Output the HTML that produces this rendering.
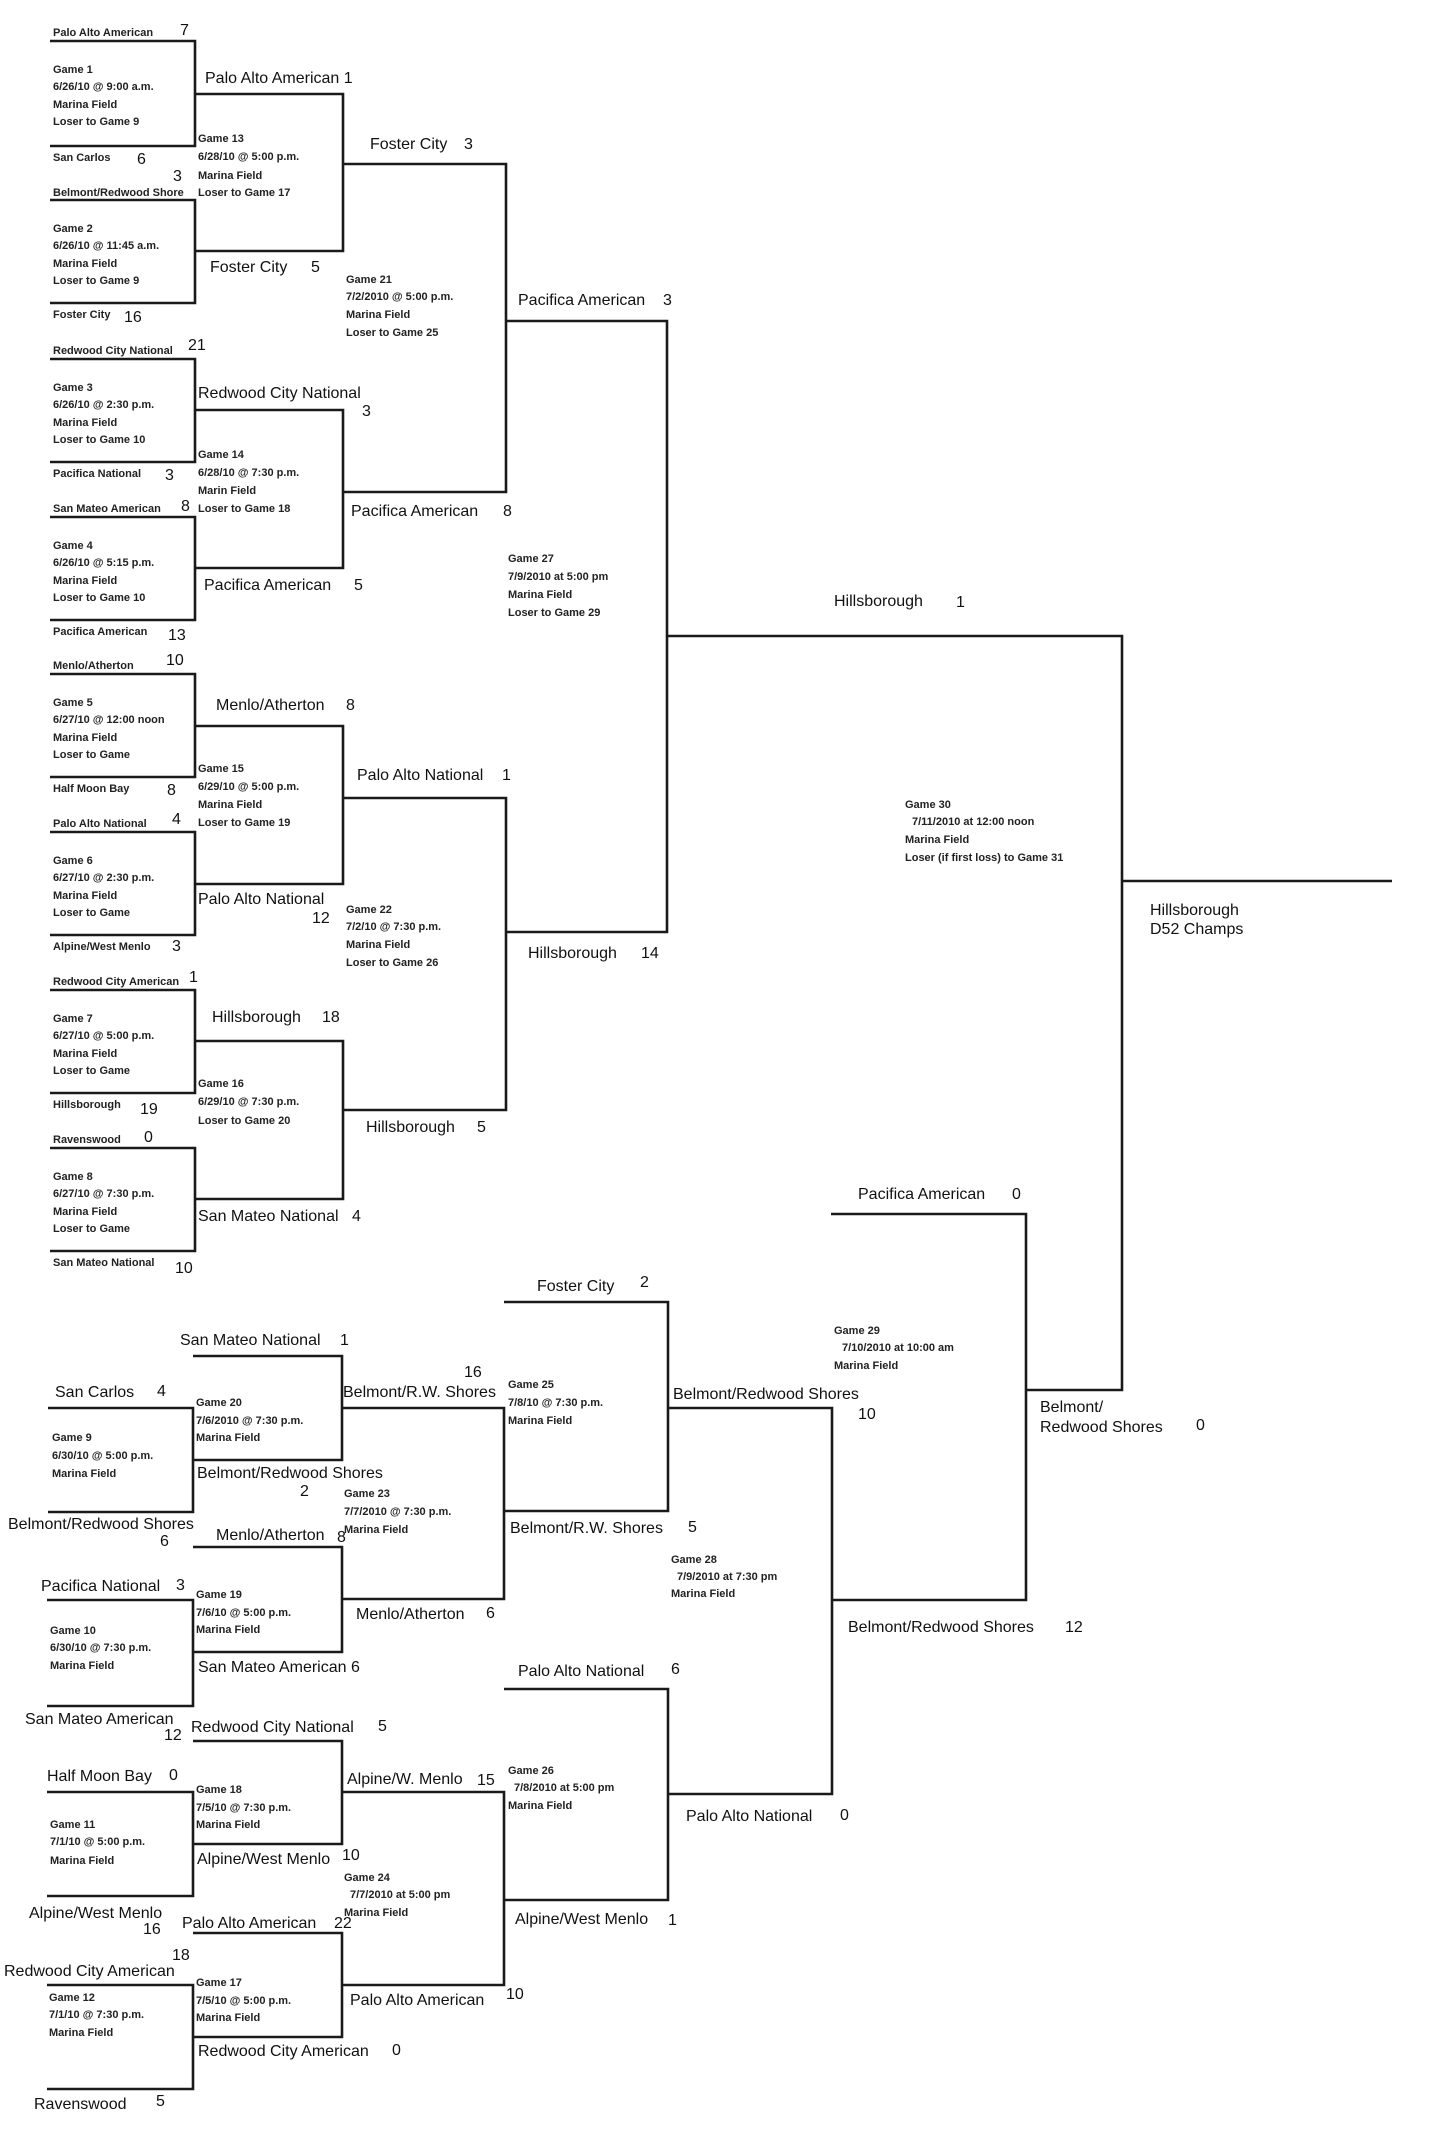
<!DOCTYPE html>
<html><head><meta charset="utf-8"><style>
html,body{margin:0;padding:0;background:#fff;}
svg{display:block;}
.s{font-family:"Liberation Sans",sans-serif;font-size:11px;font-weight:bold;fill:#222;}
.L{font-family:"Liberation Sans",sans-serif;font-size:16px;fill:#111;}
line,polyline{stroke:#1a1a1a;stroke-width:2.6;fill:none;}
</style></head><body>
<svg width="1446" height="2142" viewBox="0 0 1446 2142" xmlns="http://www.w3.org/2000/svg">
<!-- TOP HALF round 1 brackets -->
<polyline points="50,41 195,41 195,146 50,146"/>
<polyline points="50,200 195,200 195,303 50,303"/>
<polyline points="50,359 195,359 195,462 50,462"/>
<polyline points="50,517 195,517 195,620 50,620"/>
<polyline points="50,674 195,674 195,777 50,777"/>
<polyline points="50,832 195,832 195,935 50,935"/>
<polyline points="50,990 195,990 195,1093 50,1093"/>
<polyline points="50,1148 195,1148 195,1251 50,1251"/>
<!-- round 2 -->
<polyline points="195,94 343,94 343,251 195,251"/>
<polyline points="195,410 343,410 343,568 195,568"/>
<polyline points="195,726 343,726 343,884 195,884"/>
<polyline points="195,1041 343,1041 343,1199 195,1199"/>
<!-- round 3 -->
<polyline points="343,164 506,164 506,492 343,492"/>
<polyline points="343,798 506,798 506,1110 343,1110"/>
<!-- round 4 -->
<polyline points="506,321 667,321 667,932 506,932"/>
<!-- final -->
<polyline points="667,636 1122,636 1122,1390 1026,1390"/>
<line x1="1122" y1="881" x2="1392" y2="881"/>

<!-- BOTTOM HALF -->
<polyline points="48,1408 193,1408 193,1512 48,1512"/>
<polyline points="47,1600 193,1600 193,1706 47,1706"/>
<polyline points="47,1792 193,1792 193,1896 47,1896"/>
<polyline points="47,1985 193,1985 193,2089 47,2089"/>
<polyline points="193,1356 342,1356 342,1460 193,1460"/>
<polyline points="193,1547 342,1547 342,1652 193,1652"/>
<polyline points="193,1741 342,1741 342,1844 193,1844"/>
<polyline points="193,1933 342,1933 342,2037 193,2037"/>
<polyline points="342,1408 504,1408 504,1599 342,1599"/>
<polyline points="342,1792 504,1792 504,1985 342,1985"/>
<polyline points="504,1302 668,1302 668,1511 504,1511"/>
<polyline points="504,1689 668,1689 668,1900 504,1900"/>
<polyline points="668,1408 832,1408 832,1794 668,1794"/>
<polyline points="831,1214 1026,1214 1026,1600 832,1600"/>

<!-- TOP round 1 text -->
<text class="s" x="53" y="36">Palo Alto American</text><text class="L" x="180" y="35">7</text>
<text class="s" x="53" y="73">Game 1</text><text class="s" x="53" y="90">6/26/10 @ 9:00 a.m.</text><text class="s" x="53" y="108">Marina Field</text><text class="s" x="53" y="125">Loser to Game 9</text>
<text class="s" x="53" y="161">San Carlos</text><text class="L" x="137" y="164">6</text>
<text class="L" x="173" y="181">3</text>
<text class="s" x="53" y="196">Belmont/Redwood Shore</text>
<text class="s" x="53" y="232">Game 2</text><text class="s" x="53" y="249">6/26/10 @ 11:45 a.m.</text><text class="s" x="53" y="267">Marina Field</text><text class="s" x="53" y="284">Loser to Game 9</text>
<text class="s" x="53" y="318">Foster City</text><text class="L" x="124" y="322">16</text>
<text class="s" x="53" y="354">Redwood City National</text><text class="L" x="188" y="350">21</text>
<text class="s" x="53" y="391">Game 3</text><text class="s" x="53" y="408">6/26/10 @ 2:30 p.m.</text><text class="s" x="53" y="426">Marina Field</text><text class="s" x="53" y="443">Loser to Game 10</text>
<text class="s" x="53" y="477">Pacifica National</text><text class="L" x="165" y="480">3</text>
<text class="s" x="53" y="512">San Mateo American</text><text class="L" x="181" y="511">8</text>
<text class="s" x="53" y="549">Game 4</text><text class="s" x="53" y="566">6/26/10 @ 5:15 p.m.</text><text class="s" x="53" y="584">Marina Field</text><text class="s" x="53" y="601">Loser to Game 10</text>
<text class="s" x="53" y="635">Pacifica American</text><text class="L" x="168" y="640">13</text>
<text class="s" x="53" y="669">Menlo/Atherton</text><text class="L" x="166" y="665">10</text>
<text class="s" x="53" y="706">Game 5</text><text class="s" x="53" y="723">6/27/10 @ 12:00 noon</text><text class="s" x="53" y="741">Marina Field</text><text class="s" x="53" y="758">Loser to Game</text>
<text class="s" x="53" y="792">Half Moon Bay</text><text class="L" x="167" y="795">8</text>
<text class="s" x="53" y="827">Palo Alto National</text><text class="L" x="172" y="824">4</text>
<text class="s" x="53" y="864">Game 6</text><text class="s" x="53" y="881">6/27/10 @ 2:30 p.m.</text><text class="s" x="53" y="899">Marina Field</text><text class="s" x="53" y="916">Loser to Game</text>
<text class="s" x="53" y="950">Alpine/West Menlo</text><text class="L" x="172" y="951">3</text>
<text class="s" x="53" y="985">Redwood City American</text><text class="L" x="189" y="982">1</text>
<text class="s" x="53" y="1022">Game 7</text><text class="s" x="53" y="1039">6/27/10 @ 5:00 p.m.</text><text class="s" x="53" y="1057">Marina Field</text><text class="s" x="53" y="1074">Loser to Game</text>
<text class="s" x="53" y="1108">Hillsborough</text><text class="L" x="140" y="1114">19</text>
<text class="s" x="53" y="1143">Ravenswood</text><text class="L" x="144" y="1142">0</text>
<text class="s" x="53" y="1180">Game 8</text><text class="s" x="53" y="1197">6/27/10 @ 7:30 p.m.</text><text class="s" x="53" y="1215">Marina Field</text><text class="s" x="53" y="1232">Loser to Game</text>
<text class="s" x="53" y="1266">San Mateo National</text><text class="L" x="175" y="1273">10</text>

<!-- TOP round 2 text -->
<text class="L" x="205" y="83">Palo Alto American  1</text>
<text class="s" x="198" y="142">Game 13</text><text class="s" x="198" y="160">6/28/10 @ 5:00 p.m.</text><text class="s" x="198" y="179">Marina Field</text><text class="s" x="198" y="196">Loser to Game 17</text>
<text class="L" x="210" y="272">Foster City</text><text class="L" x="311" y="272">5</text>
<text class="L" x="198" y="398">Redwood City National</text><text class="L" x="362" y="416">3</text>
<text class="s" x="198" y="458">Game 14</text><text class="s" x="198" y="476">6/28/10 @ 7:30 p.m.</text><text class="s" x="198" y="494">Marin Field</text><text class="s" x="198" y="512">Loser to Game 18</text>
<text class="L" x="204" y="590">Pacifica American</text><text class="L" x="354" y="590">5</text>
<text class="L" x="216" y="710">Menlo/Atherton</text><text class="L" x="346" y="710">8</text>
<text class="s" x="198" y="772">Game 15</text><text class="s" x="198" y="790">6/29/10 @ 5:00 p.m.</text><text class="s" x="198" y="808">Marina Field</text><text class="s" x="198" y="826">Loser to Game 19</text>
<text class="L" x="198" y="904">Palo Alto National</text><text class="L" x="312" y="923">12</text>
<text class="L" x="212" y="1022">Hillsborough</text><text class="L" x="322" y="1022">18</text>
<text class="s" x="198" y="1087">Game 16</text><text class="s" x="198" y="1105">6/29/10 @ 7:30 p.m.</text><text class="s" x="198" y="1124">Loser to Game 20</text>
<text class="L" x="198" y="1221">San Mateo National</text><text class="L" x="352" y="1221">4</text>

<!-- TOP round 3/4 text -->
<text class="L" x="370" y="149">Foster City</text><text class="L" x="464" y="149">3</text>
<text class="s" x="346" y="283">Game 21</text><text class="s" x="346" y="300">7/2/2010 @ 5:00 p.m.</text><text class="s" x="346" y="318">Marina Field</text><text class="s" x="346" y="336">Loser to Game 25</text>
<text class="L" x="351" y="516">Pacifica American</text><text class="L" x="503" y="516">8</text>
<text class="L" x="357" y="780">Palo Alto National</text><text class="L" x="502" y="780">1</text>
<text class="s" x="346" y="913">Game 22</text><text class="s" x="346" y="930">7/2/10 @ 7:30 p.m.</text><text class="s" x="346" y="948">Marina Field</text><text class="s" x="346" y="966">Loser to Game 26</text>
<text class="L" x="366" y="1132">Hillsborough</text><text class="L" x="477" y="1132">5</text>
<text class="L" x="518" y="305">Pacifica American</text><text class="L" x="663" y="305">3</text>
<text class="s" x="508" y="562">Game 27</text><text class="s" x="508" y="580">  7/9/2010  at 5:00 pm</text><text class="s" x="508" y="598">Marina Field</text><text class="s" x="508" y="616">Loser to Game 29</text>
<text class="L" x="528" y="958">Hillsborough</text><text class="L" x="641" y="958">14</text>
<text class="L" x="834" y="606">Hillsborough</text><text class="L" x="956" y="607">1</text>
<text class="s" x="905" y="808">Game 30</text><text class="s" x="912" y="825">7/11/2010  at 12:00 noon</text><text class="s" x="905" y="843">Marina Field</text><text class="s" x="905" y="861">Loser (if first loss) to Game 31</text>
<text class="L" x="1150" y="915">Hillsborough</text><text class="L" x="1150" y="934">D52 Champs</text>

<!-- BOTTOM text -->
<text class="L" x="180" y="1345">San Mateo National</text><text class="L" x="340" y="1345">1</text>
<text class="L" x="55" y="1397">San Carlos</text><text class="L" x="157" y="1396">4</text>
<text class="s" x="196" y="1406">Game 20</text><text class="s" x="196" y="1424">7/6/2010 @ 7:30 p.m.</text><text class="s" x="196" y="1441">Marina Field</text>
<text class="L" x="464" y="1377">16</text>
<text class="L" x="343" y="1397">Belmont/R.W. Shores</text>
<text class="s" x="52" y="1441">Game 9</text><text class="s" x="52" y="1459">6/30/10 @ 5:00 p.m.</text><text class="s" x="52" y="1477">Marina Field</text>
<text class="L" x="197" y="1478">Belmont/Redwood Shores</text><text class="L" x="300" y="1496">2</text>
<text class="s" x="344" y="1497">Game 23</text><text class="s" x="344" y="1515">7/7/2010 @ 7:30 p.m.</text><text class="s" x="344" y="1533">Marina Field</text>
<text class="L" x="8" y="1529">Belmont/Redwood Shores</text><text class="L" x="160" y="1546">6</text>
<text class="L" x="216" y="1540">Menlo/Atherton</text><text class="L" x="337" y="1542">8</text>
<text class="L" x="41" y="1591">Pacifica National</text><text class="L" x="176" y="1590">3</text>
<text class="s" x="196" y="1598">Game 19</text><text class="s" x="196" y="1616">7/6/10 @ 5:00 p.m.</text><text class="s" x="196" y="1633">Marina Field</text>
<text class="L" x="356" y="1619">Menlo/Atherton</text><text class="L" x="486" y="1618">6</text>
<text class="s" x="50" y="1634">Game 10</text><text class="s" x="50" y="1651">6/30/10 @ 7:30 p.m.</text><text class="s" x="50" y="1669">Marina Field</text>
<text class="L" x="198" y="1672">San Mateo American 6</text>
<text class="L" x="25" y="1724">San Mateo American</text><text class="L" x="164" y="1740">12</text>
<text class="L" x="191" y="1732">Redwood City National</text><text class="L" x="378" y="1731">5</text>
<text class="L" x="47" y="1781">Half Moon Bay</text><text class="L" x="169" y="1780">0</text>
<text class="s" x="196" y="1793">Game 18</text><text class="s" x="196" y="1811">7/5/10 @ 7:30 p.m.</text><text class="s" x="196" y="1828">Marina Field</text>
<text class="L" x="347" y="1784">Alpine/W. Menlo</text><text class="L" x="477" y="1785">15</text>
<text class="s" x="50" y="1828">Game 11</text><text class="s" x="50" y="1845">7/1/10 @ 5:00 p.m.</text><text class="s" x="50" y="1864">Marina Field</text>
<text class="L" x="197" y="1864">Alpine/West Menlo</text><text class="L" x="342" y="1860">10</text>
<text class="s" x="344" y="1881">Game 24</text><text class="s" x="350" y="1898">7/7/2010  at 5:00 pm</text><text class="s" x="344" y="1916">Marina Field</text>
<text class="L" x="29" y="1918">Alpine/West Menlo</text><text class="L" x="143" y="1934">16</text>
<text class="L" x="182" y="1928">Palo Alto American</text><text class="L" x="334" y="1928">22</text>
<text class="L" x="172" y="1960">18</text>
<text class="L" x="4" y="1976">Redwood City American</text>
<text class="s" x="196" y="1986">Game 17</text><text class="s" x="196" y="2004">7/5/10 @ 5:00 p.m.</text><text class="s" x="196" y="2021">Marina Field</text>
<text class="L" x="350" y="2005">Palo Alto American</text><text class="L" x="506" y="1999">10</text>
<text class="s" x="49" y="2001">Game 12</text><text class="s" x="49" y="2018">7/1/10 @ 7:30 p.m.</text><text class="s" x="49" y="2036">Marina Field</text>
<text class="L" x="198" y="2056">Redwood City American</text><text class="L" x="392" y="2055">0</text>
<text class="L" x="34" y="2109">Ravenswood</text><text class="L" x="156" y="2106">5</text>

<text class="L" x="537" y="1291">Foster City</text><text class="L" x="640" y="1287">2</text>
<text class="s" x="508" y="1388">Game 25</text><text class="s" x="508" y="1406">7/8/10 @ 7:30 p.m.</text><text class="s" x="508" y="1424">Marina Field</text>
<text class="L" x="673" y="1399">Belmont/Redwood Shores</text><text class="L" x="858" y="1419">10</text>
<text class="L" x="510" y="1533">Belmont/R.W. Shores</text><text class="L" x="688" y="1532">5</text>
<text class="s" x="671" y="1563">Game 28</text><text class="s" x="677" y="1580">7/9/2010  at 7:30 pm</text><text class="s" x="671" y="1597">Marina Field</text>
<text class="L" x="518" y="1676">Palo Alto National</text><text class="L" x="671" y="1674">6</text>
<text class="s" x="508" y="1774">Game 26</text><text class="s" x="514" y="1791">7/8/2010  at 5:00 pm</text><text class="s" x="508" y="1809">Marina Field</text>
<text class="L" x="686" y="1821">Palo Alto National</text><text class="L" x="840" y="1820">0</text>
<text class="L" x="515" y="1924">Alpine/West Menlo</text><text class="L" x="668" y="1925">1</text>
<text class="L" x="858" y="1199">Pacifica American</text><text class="L" x="1012" y="1199">0</text>
<text class="s" x="834" y="1334">Game 29</text><text class="s" x="842" y="1351">7/10/2010  at 10:00 am</text><text class="s" x="834" y="1369">Marina Field</text>
<text class="L" x="1040" y="1412">Belmont/</text><text class="L" x="1040" y="1432">Redwood Shores</text><text class="L" x="1196" y="1430">0</text>
<text class="L" x="848" y="1632">Belmont/Redwood Shores</text><text class="L" x="1065" y="1632">12</text>
</svg>
</body></html>
